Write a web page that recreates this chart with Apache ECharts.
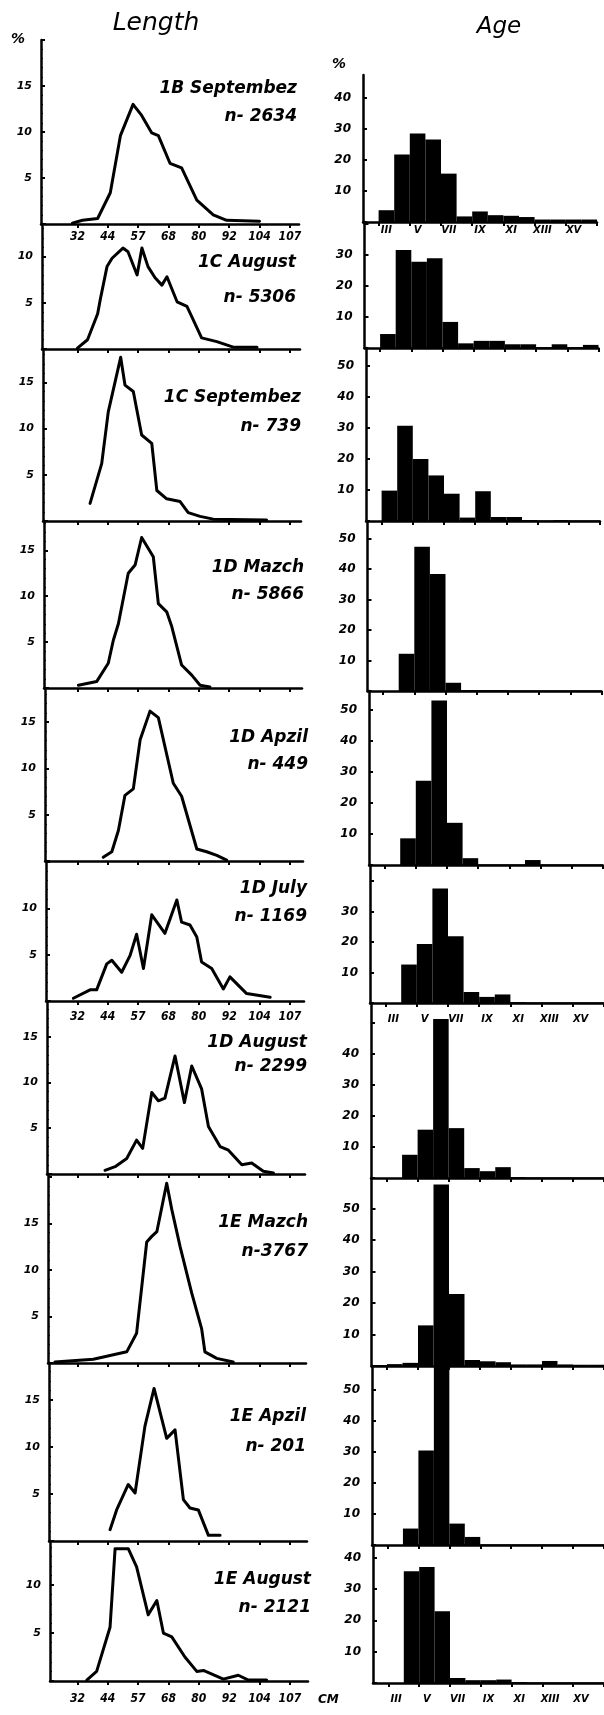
<!DOCTYPE html>
<html><head><meta charset="utf-8">
<script src="https://cdn.jsdelivr.net/npm/echarts@6/dist/echarts.min.js"></script>
<style>html,body{margin:0;padding:0;background:#fff}#c{width:604px;height:1715px}</style>
</head><body><div id="c"></div>
<script>
// ---------- DATA ----------
const panelNames = ['1B Septembez','1C August','1C Septembez','1D Mazch','1D Apzil','1D July','1D August','1E Mazch','1E Apzil','1E August'];
const panelN = ['n- 2634','n- 5306','n- 739','n- 5866','n- 449','n- 1169','n- 2299','n-3767','n- 201','n- 2121'];

const lengthTickValues = [32,44,56,68,80,92,104,116];
const lengthTickLabels = ['32','44','57','68','80','92','104','107'];
const ageCategories = ['II','III','IV','V','VI','VII','VIII','IX','X','XI','XII','XIII','XIV','XV','XVI'];

// length distributions: [cm, %]
const len1B_Sep = [[30,0.1],[34,0.4],[40,0.6],[45,3.4],[49,9.6],[54,13.0],[57.4,11.8],[61.4,9.9],[64,9.6],[68.6,6.6],[73.2,6.1],[79.2,2.6],[85.7,1.0],[91,0.4],[104,0.3]];
const len1C_Aug = [[32,0.1],[36,1.0],[40,3.8],[41,5.3],[43.7,8.9],[45.7,9.8],[50,10.9],[52,10.5],[55.6,8.0],[57.5,10.9],[59.9,8.9],[62.7,7.7],[65.4,6.9],[67.4,7.8],[71.4,5.1],[75.3,4.6],[77.2,3.5],[81.1,1.2],[87.1,0.8],[93.6,0.2],[103,0.2]];
const len1C_Sep = [[37,1.9],[41.6,6.2],[44.2,11.8],[49.1,17.7],[50.8,14.7],[54.1,14.0],[57.4,9.3],[61.4,8.4],[63.4,3.3],[67.3,2.4],[72.6,2.1],[75.8,0.9],[80.5,0.5],[85.7,0.2],[106.8,0.1]];
const len1D_Mar = [[32.4,0.3],[39.6,0.7],[44.2,2.7],[46.2,5.2],[48.2,7.0],[52.1,12.5],[54.8,13.4],[57.4,16.4],[62.0,14.3],[64.0,9.2],[67.3,8.3],[69.3,6.7],[73.2,2.5],[77.2,1.4],[80.5,0.3],[84.4,0.1]];
const len1D_Apr = [[42.2,0.4],[45.6,1.0],[48.2,3.3],[50.8,7.1],[54.1,7.8],[56.8,13.1],[60.7,16.2],[64.0,15.5],[69.9,8.4],[73.2,7.0],[79.2,1.3],[83.1,1.0],[87.1,0.6],[91.0,0.1]];
const len1D_Jul = [[30.4,0.3],[37,1.2],[39.6,1.2],[43.6,4.0],[45.6,4.4],[49.5,3.1],[52.8,4.9],[55.4,7.2],[58.1,3.5],[61.4,9.3],[66.6,7.3],[71.3,10.9],[73.2,8.5],[76.5,8.2],[79.2,6.9],[81.1,4.2],[85.1,3.5],[89.7,1.3],[92.3,2.6],[98.9,0.8],[108.2,0.4]];
const len1D_Aug = [[42.9,0.4],[46.9,0.8],[51.5,1.7],[55.4,3.7],[57.8,2.8],[61.4,8.9],[64.0,8.0],[66.6,8.3],[70.6,12.9],[74.3,7.8],[77.2,11.8],[81.1,9.3],[83.8,5.2],[88.4,3.0],[91.7,2.6],[97.0,1.0],[100.9,1.2],[105.5,0.3],[109.5,0.1]];
const len1E_Mar = [[23.1,0.1],[38.3,0.4],[44.9,0.8],[51.5,1.2],[55.4,3.2],[59.4,13.0],[61.4,13.6],[63.4,14.1],[67.3,19.3],[69.3,16.5],[72.6,12.5],[77.2,7.5],[81.1,3.7],[82.4,1.2],[87.1,0.5],[93.6,0.1]];
const len1E_Apr = [[44.9,1.2],[47.5,3.3],[52.1,6.0],[54.8,5.1],[58.7,12.2],[62.3,16.2],[67.3,10.9],[70.6,11.8],[73.9,4.4],[76.5,3.5],[79.8,3.3],[83.8,0.6],[88.4,0.6]];
const len1E_Aug = [[35.7,0.1],[39.6,1.0],[44.9,5.6],[46.9,13.8],[52.1,13.8],[55.4,11.9],[60.0,6.9],[63.4,8.4],[66.0,5.0],[69.3,4.6],[74.5,2.5],[79.2,1.0],[81.8,1.1],[89.7,0.2],[95.6,0.6],[99.6,0.1],[106.8,0.1]];

// age distributions (% per age class II..XVI)
const age1B_Sep = [0,3.8,21.8,28.5,26.6,15.6,1.8,3.4,2.2,2.0,1.6,0.8,0.8,0.8,0.8];
const age1C_Aug = [0,4.5,31.6,27.8,28.9,8.4,1.5,2.3,2.3,1.2,1.2,0.3,1.2,0.3,1.0];
const age1C_Sep = [0,9.8,30.7,20.0,14.7,8.8,1.1,9.6,1.3,1.3,0.3,0.2,0.3,0.2,0.2];
const age1D_Mar = [0,0,12.2,47.3,38.3,2.7,0.3,0.3,0.3,0.2,0.2,0.2,0.2,0.2,0.2];
const age1D_Apr = [0,0,8.6,27.2,53.0,13.6,2.2,0.2,0.2,0.2,1.6,0.2,0.2,0.2,0.2];
const age1D_Jul = [0,0,12.6,19.3,37.5,21.9,3.6,2.0,2.8,0.3,0.2,0.2,0.2,0.2,0.2];
const age1D_Aug = [0,0,7.5,15.6,51.3,16.1,3.2,2.2,3.5,0.3,0.2,0.2,0.2,0.2,0.2];
const age1E_Mar = [0.3,0.6,1.0,12.9,57.6,22.9,1.9,1.5,1.2,0.5,0.5,1.6,0.5,0.4,0.4];
const age1E_Apr = [0,0,5.3,30.5,57.4,6.9,2.6,0.2,0.2,0.2,0.2,0.2,0.2,0.2,0.2];
const age1E_Aug = [0,0,35.6,37.0,22.9,1.6,0.9,0.9,1.1,0.3,0.2,0.2,0.2,0.2,0.2];

const lengthSeries = [len1B_Sep,len1C_Aug,len1C_Sep,len1D_Mar,len1D_Apr,len1D_Jul,len1D_Aug,len1E_Mar,len1E_Apr,len1E_Aug];
const ageSeries = [age1B_Sep,age1C_Aug,age1C_Sep,age1D_Mar,age1D_Apr,age1D_Jul,age1D_Aug,age1E_Mar,age1E_Apr,age1E_Aug];

// axis extents per panel
const leftMax = [20,13.5,18.6,18.2,18.7,15.1,18.9,20.3,18.9,14.6];
const leftLabelMax = [15,10,15,15,15,10,15,15,15,10];
const rightMax = [47.4,40.6,55.8,55.7,56.1,45.2,56.5,59.7,57.7,44];
const rightLabelMax = [40,30,50,50,50,30,40,50,50,40];

// ---------- LAYOUT ----------
const leftAxisX = [41,42,43,44,45,46,47,48,49,50];
const leftTop  = [40,224,349,521,688,861,1001,1174,1363,1541];
const leftBase = [224,349,521,688,861,1001,1174,1363,1541,1681];
const rightAxisX = [363,364.5,366,367.5,369,370,371,371.5,372,373];
const rightTop  = [75,222,348,521,691,865,1003,1178,1366,1545];
const rightBase = [222,348,521,691,865,1003,1178,1366,1545,1683];
const labelRows = [0,5,9];
const labelMargins = {0:7, 5:10, 9:12};
const ageLabelMargins = {0:3, 5:11, 9:11};
const titleRight = [297,296,301,304,308,307,307,308,306,311];
const titleY = [89,263,398,568,738,889,1043,1223,1417,1580];
const nY = [117,298,427,595,765,917,1067,1252,1447,1608];
const LEFT_W = 258, RIGHT_W = 234, PX_PER_CM = 258/102;

const BLACK = '#000';
const grids = [], xAxes = [], yAxes = [], series = [], graphics = [];

for (let i = 0; i < 10; i++) {
  const gl = 2*i, gr = 2*i+1;
  grids.push({left: leftAxisX[i], top: leftTop[i], width: LEFT_W, height: leftBase[i]-leftTop[i]});
  grids.push({left: rightAxisX[i], top: rightTop[i], width: RIGHT_W, height: rightBase[i]-rightTop[i]});
  const xmin = 18 + (leftAxisX[i]-42)/PX_PER_CM;
  const showLbl = labelRows.includes(i);
  xAxes.push({
    gridIndex: gl, type: 'value', min: xmin, max: xmin + LEFT_W/PX_PER_CM,
    axisLine: {onZero: false, lineStyle: {color: BLACK, width: 2.5}},
    axisTick: {show: true, customValues: lengthTickValues, length: 4, lineStyle: {color: BLACK, width: 2}},
    axisLabel: {show: showLbl, customValues: lengthTickValues, margin: labelMargins[i] || 8,
      formatter: v => { const k = lengthTickValues.indexOf(v); return k >= 0 ? lengthTickLabels[k] : ''; },
      color: BLACK, fontSize: 12, fontWeight: 'bold', fontStyle: 'italic',
      fontFamily: '"Liberation Sans Narrow","DejaVu Sans Condensed","DejaVu Sans",sans-serif'},
    splitLine: {show: false}
  });
  xAxes.push({
    gridIndex: gr, type: 'category', data: ageCategories, boundaryGap: true,
    axisLine: {onZero: false, lineStyle: {color: BLACK, width: 2.5}},
    axisTick: {show: true, length: 4, lineStyle: {color: BLACK, width: 2}},
    axisLabel: {show: showLbl, interval: (idx) => idx % 2 === 1, margin: ageLabelMargins[i] || 6,
      color: BLACK, fontSize: 10, fontWeight: 'bold', fontStyle: 'italic', fontFamily: '"DejaVu Sans",sans-serif'},
    splitLine: {show: false}
  });
  yAxes.push({
    gridIndex: gl, type: 'value', min: 0, max: leftMax[i], interval: 5,
    axisLine: {show: true, lineStyle: {color: BLACK, width: 2.5}},
    axisTick: {show: true, inside: true, length: 4, lineStyle: {color: BLACK, width: 2}},
    minorTick: {show: true, splitNumber: 5, length: 2, lineStyle: {color: BLACK, width: 1}},
    axisLabel: {margin: 9, showMaxLabel: false, color: BLACK, fontSize: 11, fontWeight: 'bold', fontStyle: 'italic', fontFamily: '"DejaVu Sans",sans-serif',
      formatter: v => (v > 0 && v <= leftLabelMax[i] && v % 5 === 0) ? String(v) : ''},
    splitLine: {show: false}, minorSplitLine: {show: false}
  });
  yAxes.push({
    gridIndex: gr, type: 'value', min: 0, max: rightMax[i], interval: 10,
    axisLine: {show: true, lineStyle: {color: BLACK, width: 2.5}},
    axisTick: {show: true, inside: true, length: 4, lineStyle: {color: BLACK, width: 2}},
    axisLabel: {margin: 12, showMaxLabel: false, color: BLACK, fontSize: 12, fontWeight: 'bold', fontStyle: 'italic', fontFamily: '"DejaVu Sans",sans-serif',
      formatter: v => (v > 0 && v <= rightLabelMax[i] && v % 10 === 0) ? String(v) : ''},
    splitLine: {show: false}
  });
  series.push({type: 'line', xAxisIndex: gl, yAxisIndex: gl, data: lengthSeries[i], symbol: 'none', smooth: false,
    lineStyle: {color: BLACK, width: 3, join: 'round', cap: 'round'}, silent: true});
  series.push({type: 'bar', xAxisIndex: gr, yAxisIndex: gr, data: ageSeries[i], barCategoryGap: '0%', barGap: '0%',
    itemStyle: {color: BLACK}, silent: true});

  const tfont = 'italic bold 17px "DejaVu Sans", sans-serif';
  graphics.push({type: 'text', x: titleRight[i], y: titleY[i], style: {text: panelNames[i], fill: BLACK, font: tfont, align: 'right', verticalAlign: 'middle'}});
  graphics.push({type: 'text', x: titleRight[i], y: nY[i], style: {text: panelN[i], fill: BLACK, font: tfont, align: 'right', verticalAlign: 'middle'}});
}

graphics.push({type: 'text', x: 156, y: 23, style: {text: 'Length', fill: BLACK, font: 'italic 25px "DejaVu Sans", sans-serif', align: 'center', verticalAlign: 'middle'}});
graphics.push({type: 'text', x: 499, y: 27, style: {text: 'Age', fill: BLACK, font: 'italic 23px "DejaVu Sans", sans-serif', align: 'center', verticalAlign: 'middle'}});
graphics.push({type: 'text', x: 18, y: 39, style: {text: '%', fill: BLACK, font: 'italic bold 14px "DejaVu Sans", sans-serif', align: 'center', verticalAlign: 'middle'}});
graphics.push({type: 'text', x: 339, y: 64, style: {text: '%', fill: BLACK, font: 'italic bold 14px "DejaVu Sans", sans-serif', align: 'center', verticalAlign: 'middle'}});
graphics.push({type: 'text', x: 318, y: 1700, style: {text: 'CM', fill: BLACK, font: 'italic bold 12px "DejaVu Sans", sans-serif', align: 'left', verticalAlign: 'middle'}});

const chart = echarts.init(document.getElementById('c'), null, {renderer: 'canvas'});
chart.setOption({
  animation: false,
  backgroundColor: '#fff',
  grid: grids, xAxis: xAxes, yAxis: yAxes, series: series,
  graphic: graphics
});
</script>
</body></html>
